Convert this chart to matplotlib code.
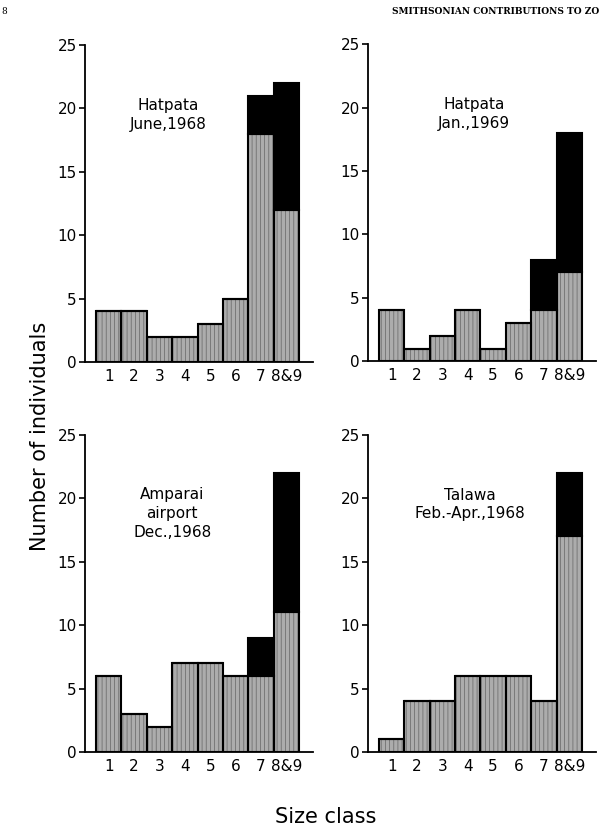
import matplotlib
matplotlib.use('Agg')
import matplotlib.pyplot as plt
import numpy as np

plt.rcParams['font.family'] = 'DejaVu Sans'
plt.rcParams['hatch.linewidth'] = 0.6

# size classes (8 and 9 pooled)
classes = ['1', '2', '3', '4', '5', '6', '7', '8&9']

# per-site counts: grey = lower part, black = upper part stacked on grey
titles = ['Hatpata\nJune,1968', 'Hatpata\nJan.,1969',
          'Amparai\nairport\nDec.,1968', 'Talawa\nFeb.-Apr.,1968']
grey_counts = [
    [4, 4, 2, 2, 3, 5, 18, 12],
    [4, 1, 2, 4, 1, 3, 4, 7],
    [6, 3, 2, 7, 7, 6, 6, 11],
    [1, 4, 4, 6, 6, 6, 4, 17],
]
black_counts = [
    [0, 0, 0, 0, 0, 0, 3, 10],
    [0, 0, 0, 0, 0, 0, 4, 11],
    [0, 0, 0, 0, 0, 0, 3, 11],
    [0, 0, 0, 0, 0, 0, 0, 5],
]

# label positions (data coords) and axes boxes in figure fraction
label_xy = [(3.35, 19.5), (4.25, 19.5), (3.5, 18.8), (4.1, 19.5)]
boxes = [
    [0.1417, 0.569, 0.38, 0.3774],
    [0.6133, 0.570, 0.38, 0.3774],
    [0.1417, 0.1048, 0.38, 0.3774],
    [0.6133, 0.1048, 0.38, 0.3774],
]

fig = plt.figure(figsize=(6, 8.4), dpi=100)
x = np.arange(1, len(classes) + 1)

for i in range(4):
    ax = fig.add_axes(boxes[i])
    g = np.array(grey_counts[i])
    b = np.array(black_counts[i])
    # stippled grey fill
    ax.bar(x, g, width=1.0, color='#acacac', edgecolor='#707070',
           hatch='||||', linewidth=0)
    ax.bar(x, g, width=1.0, fill=False, edgecolor='black', linewidth=1.5)
    ax.bar(x, b, bottom=g, width=1.0, color='black', edgecolor='black',
           linewidth=1.5)

    ax.set_xlim(0.067, 9.05)
    ax.set_ylim(0, 25)
    ax.set_yticks([0, 5, 10, 15, 20, 25])
    ax.set_xticks(x)
    ax.set_xticklabels(classes, fontsize=11)
    ax.tick_params(axis='x', length=0, pad=5)
    ax.tick_params(axis='y', direction='out', length=4, width=1.2,
                   labelsize=11, pad=2)
    ax.spines['top'].set_visible(False)
    ax.spines['right'].set_visible(False)
    ax.spines['left'].set_linewidth(1.3)
    ax.spines['bottom'].set_linewidth(1.3)

    tx, ty = label_xy[i]
    ax.text(tx, ty, titles[i], ha='center', va='center', fontsize=11,
            linespacing=1.3)

fig.text(0.067, 0.481, 'Number of individuals', rotation=90,
         ha='center', va='center', fontsize=15)
fig.text(0.542, 0.027, 'Size class', ha='center', va='center', fontsize=15)
fig.text(0.998, 0.986, 'SMITHSONIAN CONTRIBUTIONS TO ZO', ha='right',
         va='center', fontsize=6.5, family='DejaVu Serif', fontweight='bold')
fig.text(0.002, 0.986, '8', ha='left', va='center', fontsize=6.5,
         family='DejaVu Serif')

fig.savefig('out.png', dpi=100, facecolor='white')
